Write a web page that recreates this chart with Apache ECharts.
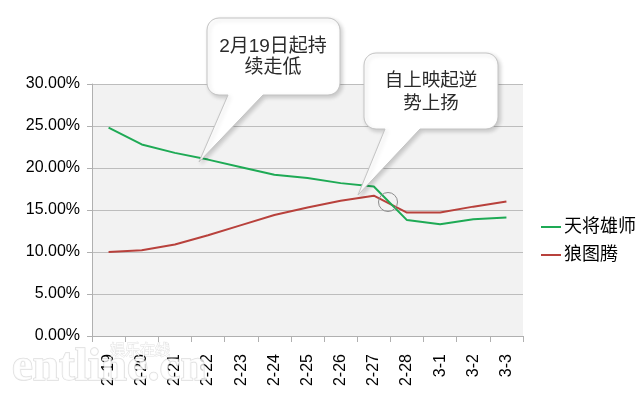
<!DOCTYPE html>
<html>
<head>
<meta charset="utf-8">
<script src="https://cdn.jsdelivr.net/npm/echarts@6/dist/echarts.min.js"></script>
<style>
  html, body { margin: 0; padding: 0; background: #fff; }
  #chart { width: 643px; height: 398px; }
</style>
</head>
<body>
<div id="chart"></div>
<script>
// categories (dates) and box-office share per film
const dates = ['2-19', '2-20', '2-21', '2-22', '2-23', '2-24', '2-25', '2-26', '2-27', '2-28', '3-1', '3-2', '3-3'];
const tianjiang = [0.248, 0.228, 0.218, 0.210, 0.201, 0.192, 0.188, 0.182, 0.178, 0.138, 0.133, 0.139, 0.141];
const langtuteng = [0.100, 0.102, 0.109, 0.120, 0.132, 0.144, 0.153, 0.161, 0.167, 0.147, 0.147, 0.154, 0.160];
const seriesNames = ['天将雄师', '狼图腾'];
const seriesColors = ['#1eaa55', '#b8413c'];
const notes = ['2月19日起持\n续走低', '自上映起逆\n势上扬'];

const FONT = '"Liberation Sans", "Noto Sans CJK SC", Arial, sans-serif';

const chart = echarts.init(document.getElementById('chart'));

// callout bubble outline: rounded box with a pointer leaving its bottom edge
function bubblePoints(x1, y1, x2, y2, r, b1, b2, tx, ty) {
  const pts = [];
  const corner = (cx, cy, a0) => {
    for (let i = 0; i <= 6; i++) {
      const a = (a0 + i * 15) * Math.PI / 180;
      pts.push([cx + r * Math.cos(a), cy + r * Math.sin(a)]);
    }
  };
  corner(x1 + r, y1 + r, 180);
  corner(x2 - r, y1 + r, 270);
  corner(x2 - r, y2 - r, 0);
  pts.push([b2, y2], [tx, ty], [b1, y2]);
  corner(x1 + r, y2 - r, 90);
  return pts;
}

const bubbleStyle = {
  fill: '#fff',
  stroke: '#c4c4c4',
  lineWidth: 1,
  shadowBlur: 4,
  shadowOffsetX: 2,
  shadowOffsetY: 2,
  shadowColor: 'rgba(0,0,0,0.18)'
};

const option = {
  animation: false,
  backgroundColor: '#fff',
  grid: {
    left: 92,
    right: 120,
    top: 84,
    bottom: 62,
    show: true,
    backgroundColor: '#f2f2f2',
    borderWidth: 0
  },
  legend: {
    orient: 'vertical',
    left: 536,
    top: 213,
    itemWidth: 20,
    itemHeight: 2,
    itemGap: 10,
    icon: 'rect',
    textStyle: { fontSize: 18, color: '#000', fontFamily: FONT, padding: [0, 0, 0, -2] },
    data: seriesNames
  },
  xAxis: {
    type: 'category',
    data: dates,
    boundaryGap: true,
    axisLine: { show: true, lineStyle: { color: '#b0b0b0' } },
    axisTick: { show: true, length: 6, interval: 0, lineStyle: { color: '#b0b0b0' } },
    axisLabel: { rotate: 90, interval: 0, margin: 18, fontSize: 16, color: '#000', fontFamily: FONT },
    splitLine: { show: false }
  },
  yAxis: {
    type: 'value',
    min: 0,
    max: 0.3,
    interval: 0.05,
    axisLine: { show: true, lineStyle: { color: '#b0b0b0' } },
    axisTick: { show: true, length: 5, lineStyle: { color: '#b0b0b0' } },
    axisLabel: {
      fontSize: 16,
      color: '#000',
      fontFamily: FONT,
      margin: 12,
      formatter: v => (v * 100).toFixed(2) + '%'
    },
    splitLine: { show: true, lineStyle: { color: '#bdbdbd', width: 1 } }
  },
  series: [
    {
      name: seriesNames[0],
      type: 'line',
      data: tianjiang,
      symbol: 'none',
      lineStyle: { color: seriesColors[0], width: 2 },
      itemStyle: { color: seriesColors[0] },
      z: 3
    },
    {
      name: seriesNames[1],
      type: 'line',
      data: langtuteng,
      symbol: 'none',
      lineStyle: { color: seriesColors[1], width: 2 },
      itemStyle: { color: seriesColors[1] },
      z: 2
    }
  ],
  graphic: [
    {
      type: 'polygon',
      z: 100,
      shape: { points: bubblePoints(207, 18, 340, 95, 12, 228, 263, 199, 162) },
      style: bubbleStyle
    },
    {
      type: 'text',
      z: 101,
      x: 273,
      y: 57,
      style: {
        text: notes[0],
        font: '19px ' + FONT,
        fill: '#2b2b2b',
        align: 'center',
        verticalAlign: 'middle',
        lineHeight: 21
      }
    },
    {
      type: 'polygon',
      z: 100,
      shape: { points: bubblePoints(364, 53, 498, 129, 12, 385, 420, 358, 195) },
      style: bubbleStyle
    },
    {
      type: 'text',
      z: 101,
      x: 431,
      y: 92,
      style: {
        text: notes[1],
        font: '18.5px ' + FONT,
        fill: '#2b2b2b',
        align: 'center',
        verticalAlign: 'middle',
        lineHeight: 23
      }
    },
    {
      type: 'circle',
      z: 100,
      shape: { cx: 388, cy: 202, r: 9.5 },
      style: { fill: 'rgba(0,0,0,0)', stroke: '#8c8c8c', lineWidth: 1 }
    },
    // faint site watermark
    {
      type: 'text',
      z: 110,
      x: 12,
      y: 368,
      style: {
        text: 'entline.cn',
        font: 'bold 47px "Liberation Serif", "DejaVu Serif", serif',
        fill: 'rgba(255,255,255,0.8)',
        stroke: 'rgba(160,160,160,0.35)',
        lineWidth: 1.5,
        verticalAlign: 'middle'
      }
    },
    {
      type: 'text',
      z: 110,
      x: 110,
      y: 349,
      style: {
        text: '娱乐在线',
        font: '15px "Noto Sans CJK SC", sans-serif',
        fill: 'rgba(255,255,255,0.9)',
        stroke: 'rgba(160,160,160,0.3)',
        lineWidth: 1,
        verticalAlign: 'middle'
      }
    }
  ]
};

chart.setOption(option);
</script>
</body>
</html>
